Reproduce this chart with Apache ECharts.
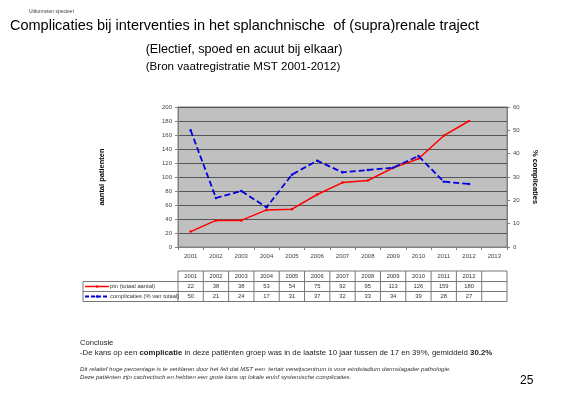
<!DOCTYPE html>
<html><head><meta charset="utf-8">
<script src="https://cdn.jsdelivr.net/npm/echarts@6/dist/echarts.min.js"></script>
<style>html,body{margin:0;padding:0;background:#fff}#c{width:568px;height:394px}</style>
</head><body><div id="c"></div>
<script>
var categories = ['2001','2002','2003','2004','2005','2006','2007','2008','2009','2010','2011','2012','2013'];
var ptnValues = [22,38,38,53,54,75,92,95,113,126,159,180];
var complValues = [50,21,24,17,31,37,32,33,34,39,28,27];
var leftTicks = [0,200,20];
var rightTicks = [0,60,10];
var seriesNames = ['ptn (totaal aantal)','complicaties (% van totaal)'];

var chart = echarts.init(document.getElementById('c'), null, {renderer:'canvas'});
var G = {left:178, top:107, width:329, height:140};
var tickFont = {fontFamily:'Liberation Sans, Arial', fontSize:6, color:'#444'};
var option = {
  animation:false,
  backgroundColor:'#fff',
  grid:{left:G.left, top:G.top, width:G.width, height:G.height, show:true, backgroundColor:'#c0c0c0', borderColor:'#808080', borderWidth:1},
  xAxis:{type:'category', data:categories, boundaryGap:true,
    axisLine:{lineStyle:{color:'#808080'}}, axisTick:{show:true, length:3, lineStyle:{color:'#808080'}},
    axisLabel:Object.assign({margin:6, interval:0}, tickFont)},
  yAxis:[
    {type:'value', min:leftTicks[0], max:leftTicks[1], interval:leftTicks[2], position:'left',
     axisLine:{show:true, lineStyle:{color:'#808080'}}, axisTick:{show:true, length:3, lineStyle:{color:'#808080'}},
     splitLine:{show:true, lineStyle:{color:'#555', width:1}},
     axisLabel:Object.assign({margin:6}, tickFont),
     name:'aantal patienten', nameLocation:'middle', nameGap:72, nameRotate:90,
     nameTextStyle:{fontFamily:'Liberation Sans, Arial', fontSize:7.5, fontWeight:'bold', color:'#000'}},
    {type:'value', min:rightTicks[0], max:rightTicks[1], interval:rightTicks[2], position:'right',
     axisLine:{show:true, lineStyle:{color:'#808080'}}, axisTick:{show:true, length:3, lineStyle:{color:'#808080'}},
     splitLine:{show:false},
     axisLabel:Object.assign({margin:6}, tickFont),
     name:'% complicaties', nameLocation:'middle', nameGap:22, nameRotate:-90,
     nameTextStyle:{fontFamily:'Liberation Sans, Arial', fontSize:7.5, fontWeight:'bold', color:'#000'}}
  ],
  series:[
    {name:seriesNames[0], type:'line', data:ptnValues, yAxisIndex:0, symbol:'circle', symbolSize:2.5,
     lineStyle:{color:'#ff0000', width:1.5}, itemStyle:{color:'#ff0000'}},
    {name:seriesNames[1], type:'line', data:complValues, yAxisIndex:1, symbol:'circle', symbolSize:2.5,
     lineStyle:{color:'#0000dd', width:1.8, type:[6,3]}, itemStyle:{color:'#0000dd'}}
  ],
  graphic:[]
};
chart.setOption(option);

var g = [];
function txt(x,y,t,o){ g.push({type:'text', x:x, y:y, silent:true, style:Object.assign({text:t, fill:'#000', fontFamily:'Liberation Sans, Arial', fontSize:10, textVerticalAlign:'middle'}, o||{})}); }
function line(x1,y1,x2,y2,o){ g.push({type:'line', silent:true, shape:{x1:x1,y1:y1,x2:x2,y2:y2}, style:Object.assign({stroke:'#777', lineWidth:1}, o||{})}); }

txt(29,12,'Uitkomsten specieel',{fontSize:5, fill:'#444'});
txt(10,26,'Complicaties bij interventies in het splanchnische  of (supra)renale traject',{fontSize:14.5});
txt(244,50,'(Electief, spoed en acuut bij elkaar)',{fontSize:12.6, textAlign:'center'});
txt(243,67,'(Bron vaatregistratie MST 2001-2012)',{fontSize:11.6, textAlign:'center'});

var colW = G.width / categories.length;
var rowY = [271, 281.5, 291.5, 301.5];
var tl = 83, tr = G.left + G.width;
line(G.left, rowY[0], tr, rowY[0]);
for (var r=1;r<4;r++) line(tl, rowY[r], tr, rowY[r]);
line(tl, rowY[1], tl, rowY[3]);
for (var i=0;i<=categories.length;i++){
  var x = G.left + i*colW;
  line(x, rowY[0], x, rowY[3]);
}
var tf = {fontSize:5.8, fill:'#333', textAlign:'center'};
for (var i=0;i<categories.length;i++){
  var cx = chart.convertToPixel({xAxisIndex:0}, categories[i]);
  if (i < ptnValues.length) {
    txt(cx, (rowY[0]+rowY[1])/2, categories[i], tf);
    txt(cx, (rowY[1]+rowY[2])/2, String(ptnValues[i]), tf);
    txt(cx, (rowY[2]+rowY[3])/2, String(complValues[i]), tf);
  }
}
var y1 = (rowY[1]+rowY[2])/2, y2 = (rowY[2]+rowY[3])/2;
line(85, y1, 109, y1, {stroke:'#ff0000', lineWidth:1.5});
g.push({type:'circle', silent:true, shape:{cx:97, cy:y1, r:1.3}, style:{fill:'#ff0000'}});
line(85, y2, 109, y2, {stroke:'#0000dd', lineWidth:1.8, lineDash:[4,2]});
g.push({type:'circle', silent:true, shape:{cx:97, cy:y2, r:1.3}, style:{fill:'#0000dd'}});
txt(110, y1, seriesNames[0], {fontSize:5.8, fill:'#333'});
txt(110, y2, seriesNames[1], {fontSize:5.8, fill:'#333'});

txt(80,343,'Conclusie',{fontSize:7.6, fill:'#222'});
g.push({type:'text', x:80, y:353, silent:true, style:{
  text:'-De kans op een {b|complicatie} in deze patiënten groep was in de laatste 10 jaar tussen de 17 en 39%, gemiddeld {b|30.2%}',
  fontFamily:'Liberation Sans, Arial', fontSize:7.8, fill:'#222', textVerticalAlign:'middle',
  rich:{b:{fontWeight:'bold', fontSize:7.8, fill:'#222', fontFamily:'Liberation Sans, Arial'}}}});
txt(80,369,'Dit relatief hoge percentage is te verklaren door het feit dat MST een  tertair verwijscentrum is voor eindstadium darmslagader pathologie.',{fontSize:6.1, fontStyle:'italic', fill:'#333'});
txt(80,377,'Deze patiënten zijn cachectisch en hebben een grote kans op lokale en/of systemische complicaties.',{fontSize:6.1, fontStyle:'italic', fill:'#333'});
txt(520,381,'25',{fontSize:12});

chart.setOption({graphic:g});
</script></body></html>
